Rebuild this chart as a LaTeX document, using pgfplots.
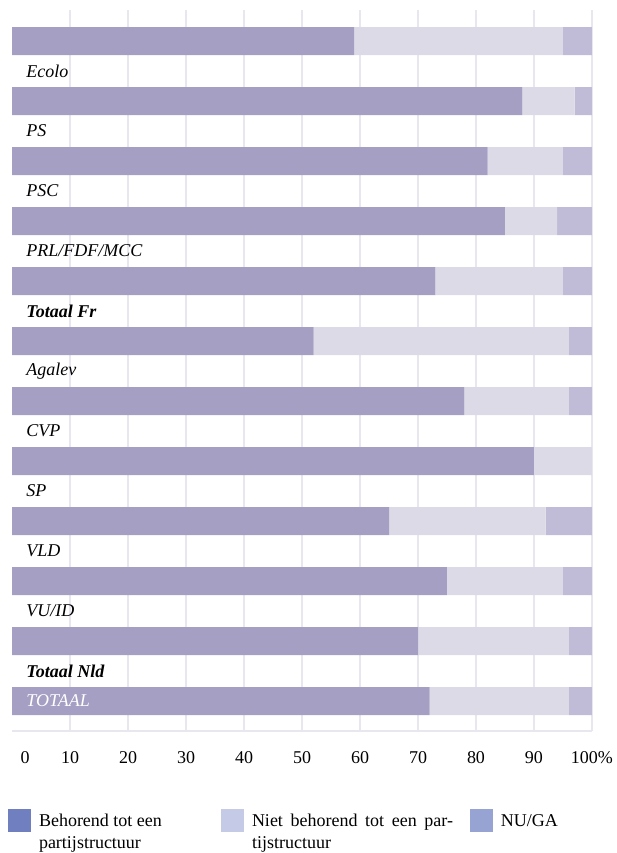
\documentclass[border=0pt]{standalone}
\usepackage{fontspec}
\setmainfont{Liberation Serif}
\usepackage{pgfplots}
\usepackage{pgfplotstable}
\pgfplotsset{compat=1.18}

\definecolor{cmain}{HTML}{A69FC4}
\definecolor{cniet}{HTML}{DCDAE7}
\definecolor{cnuga}{HTML}{C0BBD7}
\definecolor{leg1}{HTML}{6F7FC0}
\definecolor{leg2}{HTML}{C5CAE6}
\definecolor{leg3}{HTML}{97A3D3}
\definecolor{cgrid}{HTML}{E8E6EF}

% tick labels above the bars, grid below them
\pgfplotsset{
  layers/labelsontop/.define layer set={
    axis background,axis grid,axis ticks,axis lines,pre main,main,axis tick labels,axis descriptions,axis foreground
  }{
    grid style={/pgfplots/on layer=axis grid},
    tick style={/pgfplots/on layer=axis ticks},
    axis line style={/pgfplots/on layer=axis lines},
    label style={/pgfplots/on layer=axis descriptions},
    legend style={/pgfplots/on layer=axis descriptions},
    title style={/pgfplots/on layer=axis descriptions},
    colorbar style={/pgfplots/on layer=axis descriptions},
    ticklabel style={/pgfplots/on layer=axis tick labels},
    axis background@ style={/pgfplots/on layer=axis background},
    3d box foreground style={/pgfplots/on layer=axis foreground},
  },
  legsq/.style={legend image code/.code={\fill[##1, draw=none] (0pt,-3pt) rectangle (11.5pt,8.5pt);}},
}

\newcommand{\lblfont}{\fontsize{9pt}{11pt}\selectfont}

% idx: 0 = Ecolo ... 11 = TOTAAL
\pgfplotstableread{
idx main niet nuga
0   59   36   5
1   88   9    3
2   82   13   5
3   85   9    6
4   73   22   5
5   52   44   4
6   78   18   4
7   90   10   0
8   65   27   8
9   75   20   5
10  70   26   4
11  72   24   4
}\partij

\begin{document}
\begin{tikzpicture}
\begin{axis}[
  set layers=labelsontop,
  scale only axis,
  width=290pt, height=360.5pt,
  xbar stacked, bar width=0.4667,
  xmin=0, xmax=100,
  ymin=-0.5167, ymax=11.5,
  y dir=reverse,
  xtick={10,20,...,100},
  xticklabels={10,20,30,40,50,60,70,80,90,100\%},
  extra x ticks={0}, extra x tick labels={0},
  extra x tick style={grid=none, xticklabel style={xshift=6.5pt}},
  xmajorgrids,
  grid style={draw=cgrid, line width=1pt},
  ytick={0.5,1.5,2.5,3.5,4.5,5.5,6.5,7.5,8.5,9.5,10.5,11},
  yticklabels={Ecolo,PS,PSC,PRL/FDF/MCC,\textbf{Totaal Fr},Agalev,CVP,SP,VLD,VU/ID,\textbf{Totaal Nld},\textcolor{white}{TOTAAL}},
  yticklabel style={anchor=west, inner sep=0pt, xshift=7pt, font=\lblfont\itshape},
  xticklabel style={anchor=north, inner sep=0pt, yshift=-10pt, font=\lblfont},
  major tick length=0pt,
  axis x line*=bottom, axis y line*=left,
  x axis line style={draw=cgrid, line width=1pt, -},
  y axis line style={draw=none},
  legend columns=3,
  legend style={at={(-0.0069,-0.1082)}, anchor=north west, draw=none, fill=none,
    inner sep=0pt, outer sep=0pt, column sep=4pt, font=\lblfont,
    cells={anchor=base west}, nodes={inner sep=0pt}},
]
\addplot[fill=cmain, draw=none, forget plot] table[x=main, y=idx]{\partij};
\addplot[fill=cniet, draw=none, forget plot] table[x=niet, y=idx]{\partij};
\addplot[fill=cnuga, draw=none, forget plot] table[x=nuga, y=idx]{\partij};

\addlegendimage{legsq, fill=leg1, draw=none}
\addlegendentry{\parbox[t]{87pt}{Behorend tot een\\partijstructuur}}
\addlegendimage{legsq, fill=leg2, draw=none}
\addlegendentry{\parbox[t]{105pt}{\makebox[100.5pt][s]{Niet behorend tot een par-}\\tijstructuur}}
\addlegendimage{legsq, fill=leg3, draw=none}
\addlegendentry{NU/GA}

\coordinate (bl) at (axis description cs:-0.0207,-0.1692);
\coordinate (tr) at (axis description cs:1.0431,1.0139);
\end{axis}
\pgfresetboundingbox
\path (bl) rectangle (tr);
\end{tikzpicture}
\end{document}
